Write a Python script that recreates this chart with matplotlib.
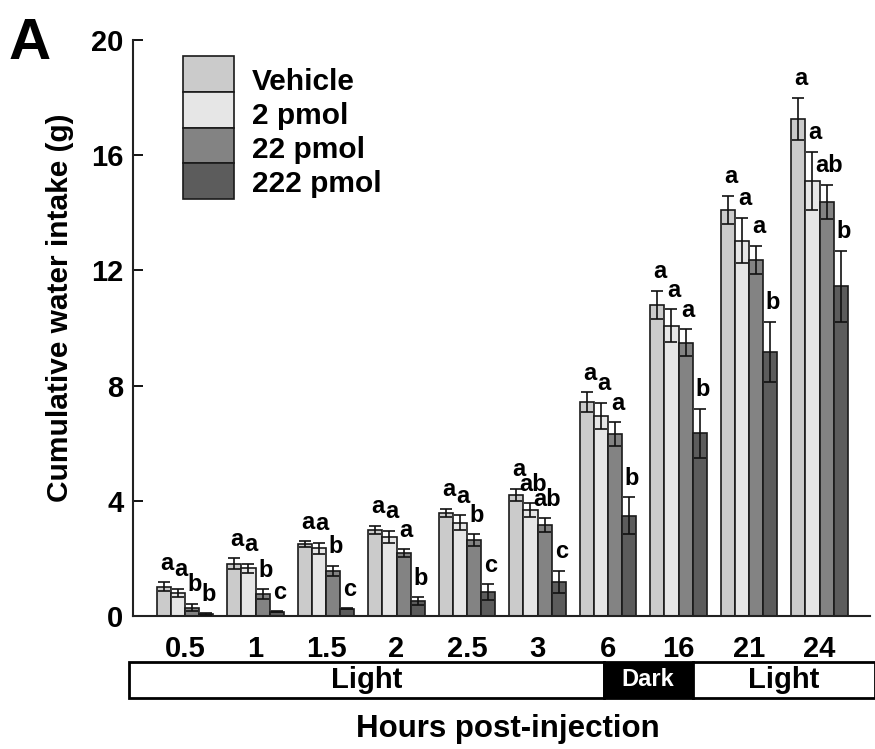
import numpy as np
import matplotlib
matplotlib.use('Agg')
import matplotlib.pyplot as plt
from matplotlib.patches import Rectangle
import matplotlib.transforms as mtransforms

plt.rcParams['font.family'] = ['Liberation Sans', 'DejaVu Sans']
plt.rcParams['font.weight'] = 'bold'

# 数据：各时间点的累计饮水量 (g)
hours = ['0.5', '1', '1.5', '2', '2.5', '3', '6', '16', '21', '24']
groups = ['Vehicle', '2 pmol', '22 pmol', '222 pmol']

vehicle = [1.02, 1.81, 2.49, 2.99, 3.58, 4.20, 7.43, 10.80, 14.10, 17.27]
pmol2 = [0.81, 1.66, 2.35, 2.75, 3.24, 3.68, 6.95, 10.08, 13.03, 15.11]
pmol22 = [0.29, 0.76, 1.57, 2.18, 2.64, 3.16, 6.32, 9.49, 12.36, 14.38]
pmol222 = [0.07, 0.15, 0.25, 0.52, 0.82, 1.19, 3.48, 6.35, 9.16, 11.45]

err_vehicle = [0.16, 0.19, 0.10, 0.14, 0.15, 0.21, 0.34, 0.50, 0.50, 0.73]
err_pmol2 = [0.14, 0.15, 0.19, 0.21, 0.26, 0.23, 0.45, 0.57, 0.79, 1.01]
err_pmol22 = [0.13, 0.17, 0.18, 0.13, 0.20, 0.23, 0.40, 0.46, 0.49, 0.60]
err_pmol222 = [0.02, 0.02, 0.02, 0.13, 0.28, 0.38, 0.64, 0.85, 1.05, 1.23]

letters_vehicle = ['a', 'a', 'a', 'a', 'a', 'a', 'a', 'a', 'a', 'a']
letters_pmol2 = ['a', 'a', 'a', 'a', 'a', 'ab', 'a', 'a', 'a', 'a']
letters_pmol22 = ['b', 'b', 'b', 'a', 'b', 'ab', 'a', 'a', 'a', 'ab']
letters_pmol222 = ['b', 'c', 'c', 'b', 'c', 'c', 'b', 'b', 'b', 'b']

# 光照周期
phase_labels = ['Light', 'Dark', 'Light']
phase_edges = [-0.79, 5.94, 7.2, 9.79]

colors = ['#cbcbcb', '#e6e6e6', '#838383', '#5c5c5c']
edge = '#1a1a1a'

means = [vehicle, pmol2, pmol22, pmol222]
errs = [err_vehicle, err_pmol2, err_pmol22, err_pmol222]
letters = [letters_vehicle, letters_pmol2, letters_pmol22, letters_pmol222]

W, H = 875, 749
fig = plt.figure(figsize=(W / 100, H / 100), dpi=100)
ax = fig.add_axes([133 / W, (H - 616) / H, (870 - 133) / W, (616 - 40) / H])

x = np.arange(len(hours))
bw = 0.2
for k in range(4):
    pos = x + (k - 1.5) * bw
    ax.bar(pos, means[k], width=bw, color=colors[k], edgecolor=edge, lw=1.2, zorder=2)
    ax.errorbar(pos, means[k], yerr=errs[k], fmt='none', ecolor='#111111',
                elinewidth=1.2, capsize=4, capthick=1.2, zorder=3)
    for xi, m, e, lab in zip(pos, means[k], errs[k], letters[k]):
        ax.annotate(lab, (xi, m + e), xytext=(2, 9), textcoords='offset points',
                    ha='center', va='baseline', fontsize=17, fontweight='bold')

ax.set_xlim(-0.738, 9.716)
ax.set_ylim(0, 20)
ax.set_yticks([0, 4, 8, 12, 16, 20])
ax.set_xticks(x)
ax.set_xticklabels(hours)
ax.tick_params(axis='y', direction='in', length=7, width=1.3, pad=7, labelsize=21)
ax.tick_params(axis='x', length=0, pad=14, labelsize=21)
for lab in ax.get_xticklabels() + ax.get_yticklabels():
    lab.set_fontweight('bold')
for s in ['top', 'right']:
    ax.spines[s].set_visible(False)
for s in ['left', 'bottom']:
    ax.spines[s].set_linewidth(1.5)
    ax.spines[s].set_color('#222222')

ax.set_ylabel('Cumulative water intake (g)', fontsize=21.5, fontweight='bold')
ax.yaxis.set_label_coords(-0.08, 0.536)

# 光/暗 条带
trans = mtransforms.blended_transform_factory(ax.transData, ax.transAxes)
y0 = -(698 - 616) / 576
h = (698 - 662) / 576
for i, lab in enumerate(phase_labels):
    a, b = phase_edges[i], phase_edges[i + 1]
    dark = lab == 'Dark'
    ax.add_patch(Rectangle((a, y0), b - a, h, transform=trans, clip_on=False,
                           facecolor='black' if dark else 'white', edgecolor='black', lw=2))
    ax.text((a + b) / 2, y0 + h / 2, lab, transform=trans, ha='center', va='center',
            fontsize=17 if dark else 21, fontweight='bold',
            color='white' if dark else 'black')

fig.text(508 / W, 1 - 737 / H, 'Hours post-injection', ha='center', va='baseline',
         fontsize=22.5, fontweight='bold')

# 图例
for k, g in enumerate(groups):
    top = 56 + k * 35.8
    fig.patches.append(Rectangle((183 / W, 1 - (top + 35.8) / H), 51 / W, 35.8 / H,
                                 transform=fig.transFigure, facecolor=colors[k],
                                 edgecolor=edge, lw=1.2))
    fig.text(252 / W, 1 - (90 + k * 34) / H, g, ha='left', va='baseline',
             fontsize=21.5, fontweight='bold')

fig.text(9 / W, 1 - 59 / H, 'A', ha='left', va='baseline', fontsize=42, fontweight='bold')

fig.savefig('out.png', dpi=100)
